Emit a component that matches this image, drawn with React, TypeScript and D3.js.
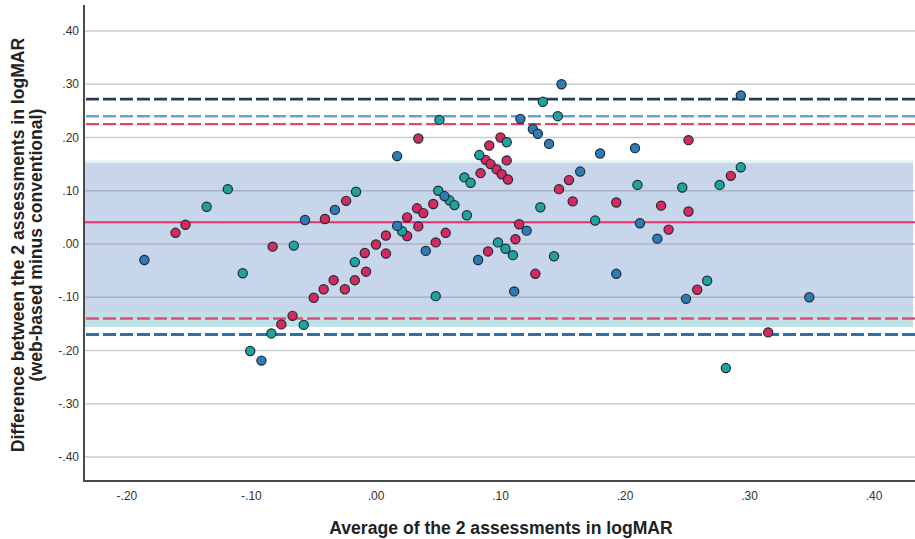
import React from "react";
import * as d3 from "d3";

// Bland–Altman plot: average of the two logMAR assessments vs. their difference

const WIDTH = 915;
const HEIGHT = 539;

// axis extents (logMAR)
const xDomain: [number, number] = [-0.2345, 0.4313];
const yDomain: [number, number] = [-0.4451, 0.4488];
const xTicks = [-0.2, -0.1, 0.0, 0.1, 0.2, 0.3, 0.4];
const yTicks = [0.4, 0.3, 0.2, 0.1, 0.0, -0.1, -0.2, -0.3, -0.4];

// confidence band of the mean difference
const bandUpper = 0.152;
const bandLower = -0.156;
const bandLowerInner = -0.129;
const bandUpperOuter = 0.157;

// mean difference and limits of agreement
const meanDiff = 0.041;
const upperLimits = [
  { value: 0.272, color: "#2c3a58", width: 2.6 },
  { value: 0.24, color: "#6d9fd3", width: 2.4 },
  { value: 0.225, color: "#e2446e", width: 2.4 },
];
const lowerLimits = [
  { value: -0.14, color: "#d9507e", width: 2.4 },
  { value: -0.17, color: "#2f6fae", width: 3 },
];

// [average, difference] per observation
const groupRed: [number, number][] = [
  [-0.161, 0.021], [-0.153, 0.036], [-0.083, -0.005], [-0.076, -0.151], [-0.067, -0.135],
  [-0.05, -0.101], [-0.042, -0.085], [-0.034, -0.068], [-0.025, -0.085], [-0.017, -0.068],
  [-0.008, -0.052], [-0.009, -0.017], [0.0, -0.001], [0.008, -0.018], [0.008, 0.016],
  [0.025, 0.015], [0.025, 0.05], [0.034, 0.033], [0.048, 0.003], [0.056, 0.021],
  [-0.041, 0.047], [-0.024, 0.081], [0.034, 0.198], [0.033, 0.067], [0.038, 0.058],
  [0.046, 0.075], [0.084, 0.133], [0.088, 0.158], [0.092, 0.15], [0.091, 0.185],
  [0.097, 0.14], [0.1, 0.2], [0.101, 0.131], [0.105, 0.157], [0.106, 0.121],
  [0.09, -0.014], [0.112, 0.009], [0.115, 0.037], [0.147, 0.103], [0.155, 0.12],
  [0.158, 0.08], [0.128, -0.056], [0.251, 0.195], [0.285, 0.128], [0.193, 0.078],
  [0.229, 0.072], [0.251, 0.061], [0.235, 0.027], [0.258, -0.086], [0.315, -0.166],
];

const groupTeal: [number, number][] = [
  [-0.136, 0.07], [-0.119, 0.103], [-0.107, -0.055], [-0.066, -0.003], [-0.101, -0.201],
  [-0.084, -0.168], [-0.058, -0.152], [-0.017, -0.034], [0.021, 0.024], [-0.016, 0.098],
  [0.051, 0.233], [0.05, 0.1], [0.059, 0.082], [0.063, 0.073], [0.071, 0.125],
  [0.076, 0.115], [0.073, 0.054], [0.083, 0.167], [0.105, 0.191], [0.098, 0.003],
  [0.104, -0.009], [0.11, -0.021], [0.134, 0.267], [0.146, 0.24], [0.132, 0.069],
  [0.176, 0.044], [0.143, -0.023], [0.048, -0.098], [0.21, 0.111], [0.246, 0.106],
  [0.276, 0.111], [0.293, 0.144], [0.266, -0.069], [0.281, -0.233],
];

const groupBlue: [number, number][] = [
  [-0.186, -0.03], [-0.092, -0.219], [-0.057, 0.045], [-0.033, 0.064], [0.017, 0.165],
  [0.017, 0.034], [0.04, -0.013], [0.055, 0.09], [0.082, -0.03], [0.121, 0.025],
  [0.116, 0.235], [0.126, 0.216], [0.13, 0.207], [0.139, 0.188], [0.149, 0.3],
  [0.164, 0.136], [0.18, 0.17], [0.111, -0.089], [0.193, -0.056], [0.208, 0.18],
  [0.293, 0.279], [0.212, 0.039], [0.226, 0.01], [0.249, -0.103], [0.348, -0.1],
];

const groups = [
  { points: groupRed, fill: "#d42a5d" },
  { points: groupTeal, fill: "#1fa39d" },
  { points: groupBlue, fill: "#2f7bb4" },
];

const xTitle = "Average of the 2 assessments in logMAR";
const yTitle1 = "Difference between the 2 assessments in logMAR";
const yTitle2 = "(web-based minus conventional)";

const plot = { left: 84, right: 913, top: 5, bottom: 481 };
const FONT = "Arial, 'Liberation Sans', sans-serif";

const fmt = (v: number) => {
  const s = d3.format(".2f")(Math.abs(v)).replace(/^0/, "");
  return v < -1e-9 ? "-" + s : s;
};

export default function App() {
  const x = d3.scaleLinear().domain(xDomain).range([plot.left, plot.right]);
  const y = d3.scaleLinear().domain(yDomain).range([plot.bottom, plot.top]);

  return (
    <div style={{ position: "absolute", left: 0, top: 0 }}>
      <svg width={WIDTH} height={HEIGHT} style={{ display: "block", background: "#fff" }}>
        {/* confidence band */}
        <rect x={plot.left} width={plot.right - plot.left} y={y(bandUpperOuter)}
          height={y(bandUpper) - y(bandUpperOuter)} fill="#e3f1f3" />
        <rect x={plot.left} width={plot.right - plot.left} y={y(bandUpper)}
          height={y(bandLower) - y(bandUpper)} fill="#c7d6ea" />
        <rect x={plot.left} width={plot.right - plot.left} y={y(bandLowerInner)}
          height={y(bandLower) - y(bandLowerInner)} fill="#c0e0e5" />

        {/* horizontal gridlines */}
        {yTicks.map((t) => (
          <line key={"g" + t} x1={plot.left} x2={WIDTH} y1={y(t)} y2={y(t)}
            stroke="#787878" strokeOpacity={0.38} strokeWidth={1.6} />
        ))}

        {/* limits of agreement */}
        {[...upperLimits, ...lowerLimits].map((l, i) => (
          <line key={"l" + i} x1={plot.left + 2} x2={WIDTH} y1={y(l.value)} y2={y(l.value)}
            stroke={l.color} strokeWidth={l.width} strokeDasharray="13 4" />
        ))}
        <line x1={plot.left} x2={WIDTH} y1={y(meanDiff)} y2={y(meanDiff)}
          stroke="#e0336b" strokeWidth={2} />

        {/* observations */}
        {groups.map((g, gi) =>
          g.points.map((p, i) => (
            <circle key={gi + "-" + i} cx={x(p[0])} cy={y(p[1])} r={4.6}
              fill={g.fill} stroke="#1e2a3a" strokeWidth={1.2} />
          ))
        )}

        {/* axes */}
        <line x1={plot.left} x2={plot.left} y1={plot.top} y2={plot.bottom + 1}
          stroke="#4a4a4a" strokeWidth={2} />
        <line x1={plot.left} x2={WIDTH} y1={plot.bottom} y2={plot.bottom}
          stroke="#4a4a4a" strokeWidth={2} />

        {yTicks.map((t) => (
          <text key={"yt" + t} x={79} y={y(t)} dy="0.35em" textAnchor="end"
            fontFamily={FONT} fontSize={12} fill="#333">{fmt(t)}</text>
        ))}
        {xTicks.map((t) => (
          <text key={"xt" + t} x={x(t)} y={496} dy="0.35em" textAnchor="middle"
            fontFamily={FONT} fontSize={12} fill="#333">{fmt(t)}</text>
        ))}

        {/* axis titles */}
        <text x={501} y={528} dy="0.35em" textAnchor="middle"
          fontFamily={FONT} fontSize={17.6} fontWeight="bold" fill="#222">{xTitle}</text>
        <g transform={`translate(18,245) rotate(-90)`}>
          <text x={0} y={0} dy="0.35em" textAnchor="middle" fontFamily={FONT}
            fontSize={17.6} fontWeight="bold" fill="#222">{yTitle1}</text>
        </g>
        <g transform={`translate(36,245) rotate(-90)`}>
          <text x={0} y={0} dy="0.35em" textAnchor="middle" fontFamily={FONT}
            fontSize={17.6} fontWeight="bold" fill="#222">{yTitle2}</text>
        </g>
      </svg>
    </div>
  );
}
